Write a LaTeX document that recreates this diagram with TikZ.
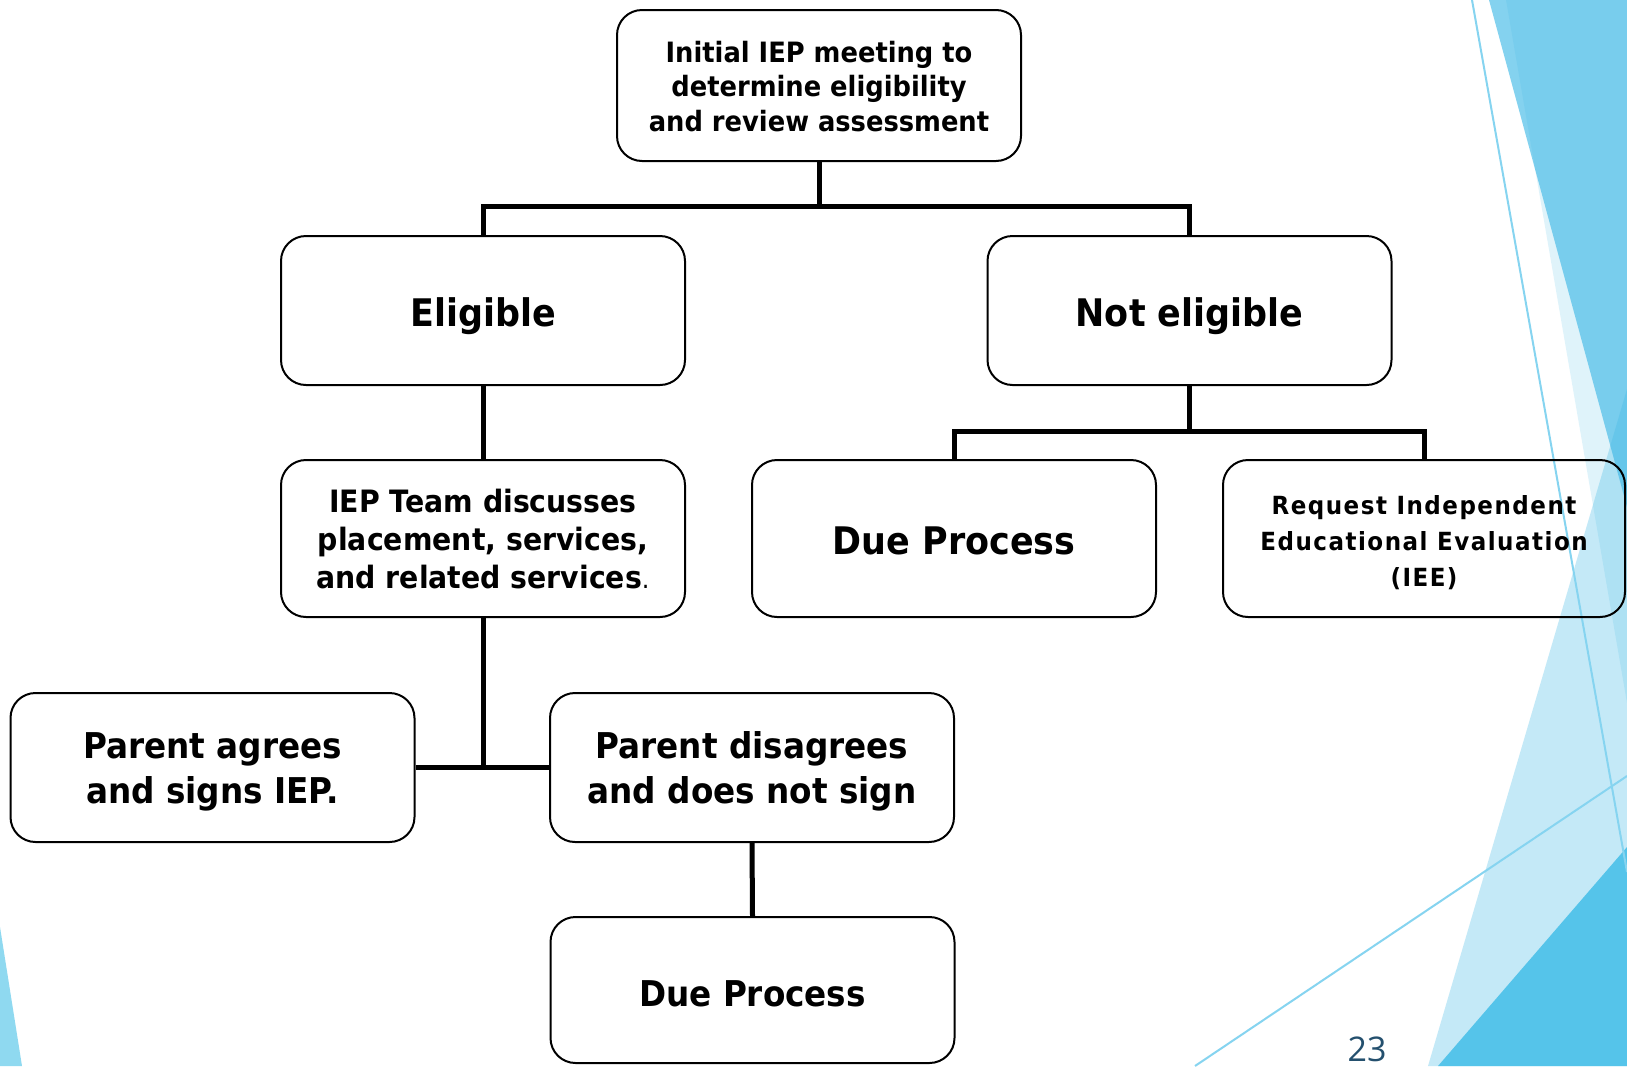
\documentclass[tikz,border=0pt]{standalone}
\usepackage{fontspec}
\setmainfont{DejaVu Sans}[FakeStretch=0.92]
\newfontfamily\numfont{Open Sans}
\begin{document}
\begin{tikzpicture}[x=1pt,y=-1pt,
  box/.style={draw=black, line width=2pt, rounded corners=25pt, align=center, inner sep=0pt,
              minimum width=404pt, minimum height=149pt},
  fs/.style n args={2}{font=\bfseries\fontsize{#1}{#2}\selectfont},
  oneline/.style={text height=#1, text depth=0pt},
  conn/.style={draw=black, line width=5pt},
  deco/.style={draw=none, fill=decoblue},
  thin/.style={draw=decoline, line width=2pt}]
\definecolor{decoblue}{HTML}{3DB8E6}
\definecolor{decoline}{HTML}{86D4F0}
\definecolor{decodark}{HTML}{55C4EA}
\definecolor{decoleft}{HTML}{8FD9F0}
\definecolor{pagenum}{HTML}{24506E}
\useasboundingbox (0,0) rectangle (1627,1066);
\fill[white] (0,0) rectangle (1627,1066);
% background decoration
\fill[deco, fill opacity=0.16] (1506,0) -- (1627,0) -- (1627,703) -- cycle;
\fill[deco, fill opacity=0.63] (1489,0) -- (1627,0) -- (1627,507) -- cycle;
\fill[deco, fill opacity=0.30] (1428,1066) -- (1627,389) -- (1627,1066) -- cycle;
\fill[decodark] (1438,1066) -- (1627,847) -- (1627,1066) -- cycle;
\fill[decoleft] (0,927) -- (22,1066) -- (0,1066) -- cycle;
\draw[thin] (1472,0) -- (1627,872);
\draw[thin] (1195,1066) -- (1627,776);
% nodes
\node[box, fs={28}{34.7}, minimum height=151pt] (top) at (819,85.5)
  {\rule{0pt}{23pt}Initial IEP meeting to\\determine eligibility\\and review assessment};
\node[box, fs={38}{45}, oneline=32pt] (elig) at (483,310.5) {Eligible};
\node[box, fs={38}{45}, oneline=32pt] (noteli) at (1189.5,310.5) {Not eligible};
\node[box, fs={30.8}{38}, minimum height=157pt] (iep) at (483,538.5)
  {\rule{0pt}{25pt}IEP Team discusses\\placement, services,\\and related services{\mdseries\fontsize{26}{38}\selectfont.}};
\node[box, fs={38}{45}, oneline=32pt, minimum height=157pt] (dp1) at (954,538.5) {Due Process};
\node[box, font=\bfseries\fontsize{25}{36}\selectfont\addfontfeatures{LetterSpace=6}, minimum height=157pt, minimum width=402pt] (iee) at (1424,538.5)
  {\rule{0pt}{27pt}Request Independent\\Educational Evaluation\\(IEE)};
\node[box, fs={35.5}{45}] (agree) at (212.5,767.5) {\rule{0pt}{35pt}Parent agrees\\and signs IEP.};
\node[box, fs={35.5}{45}] (disagree) at (752,767.5) {\rule{0pt}{35pt}Parent disagrees\\and does not sign};
\node[box, fs={35.5}{43}, oneline=32pt, minimum height=146pt] (dp2) at (752.5,990) {Due Process};
\node[text=pagenum, anchor=base, font=\numfont\fontsize{34}{40}\selectfont] (pg) at (1367,1061) {23};
% connectors
\coordinate (j1) at (820,206);
\draw[conn] (top.south) -- (top.south |- j1);
\draw[conn] (elig.north) |- (j1) -| (noteli.north);
\draw[conn] (elig.south) -- (iep.north);
\coordinate (j2) at (1190,431);
\draw[conn] (noteli.south) -- (noteli.south |- j2);
\draw[conn] (dp1.north) |- (j2) -| (iee.north);
\draw[conn] (iep.south) -- (iep.south |- agree.east);
\draw[conn] (agree.east) -- (disagree.west);
\draw[conn] (disagree.south) -- (dp2.north);
\end{tikzpicture}
\end{document}
